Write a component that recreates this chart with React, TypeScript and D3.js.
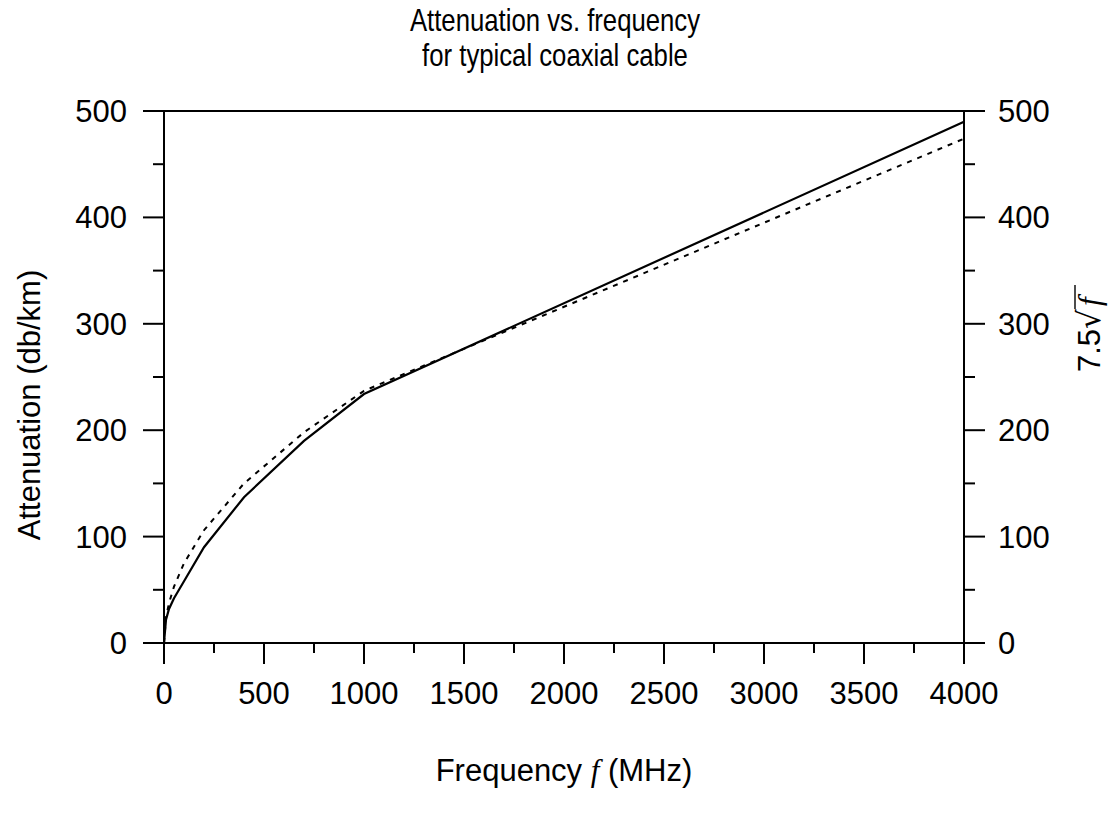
import React from "react";
import * as d3 from "d3";

const W = 1108;
const H = 815;

// Measured coaxial cable attenuation (solid)
const measuredFreq = [0, 10, 25, 50, 100, 200, 400, 700, 1000, 4000];
const measuredAtten = [0, 22, 32, 42, 58, 90, 137, 190, 234, 490];

// 7.5 * sqrt(f) reference curve (dashed)
const refFreq = [0, 10, 25, 50, 100, 200, 400, 700, 1000, 4000];
const refAtten = [0, 24, 37.5, 53, 75, 106, 150, 198, 237, 474];

const xMajorTicks = [0, 500, 1000, 1500, 2000, 2500, 3000, 3500, 4000];
const xMinorTicks = [250, 750, 1250, 1750, 2250, 2750, 3250, 3750];
const yMajorTicks = [0, 100, 200, 300, 400, 500];
const yMinorTicks = [50, 150, 250, 350, 450];

const FONT = "'Liberation Sans', Arial, Helvetica, sans-serif";
const SERIF = "'Liberation Serif', 'DejaVu Serif', serif";

export default function App() {
  const x = d3.scaleLinear().domain([0, 4000]).range([164, 964]);
  const y = d3.scaleLinear().domain([0, 500]).range([643, 111]);

  const line = d3
    .line<[number, number]>()
    .x((d) => x(d[0]))
    .y((d) => y(d[1]));

  const solid = line(measuredFreq.map((f, i) => [f, measuredAtten[i]] as [number, number])) || "";
  const dashed = line(refFreq.map((f, i) => [f, refAtten[i]] as [number, number])) || "";

  const x0 = x(0), x1 = x(4000), y0 = y(0), y1 = y(500);
  const fs = 31;

  return (
    <svg
      width={W}
      height={H}
      style={{ position: "absolute", left: 0, top: 0, background: "#fff" }}
      fontFamily={FONT}
    >
      <rect x={0} y={0} width={W} height={H} fill="#fff" />
      {/* title (condensed) */}
      <g transform="translate(555,0) scale(0.83,1)">
        <text x={0} y={31} textAnchor="middle" fontSize={31}>Attenuation vs. frequency</text>
        <text x={0} y={66} textAnchor="middle" fontSize={31}>for typical coaxial cable</text>
      </g>

      {/* axes lines */}
      <g stroke="#000" strokeWidth={2} fill="none">
        <line x1={x0 - 21} y1={y0} x2={x1} y2={y0} />
        <line x1={x0 - 21} y1={y1} x2={x1 + 21} y2={y1} />
        <line x1={x0} y1={y1} x2={x0} y2={y0 + 21} />
        <line x1={x1} y1={y1} x2={x1} y2={y0 + 21} />
        {xMajorTicks.map((t) => (
          <line key={"xm" + t} x1={x(t)} y1={y0} x2={x(t)} y2={y0 + 21} />
        ))}
        {xMinorTicks.map((t) => (
          <line key={"xn" + t} x1={x(t)} y1={y0} x2={x(t)} y2={y0 + 10} />
        ))}
        {yMajorTicks.map((t) => (
          <g key={"ym" + t}>
            <line x1={x0 - 21} y1={y(t)} x2={x0} y2={y(t)} />
            <line x1={x1} y1={y(t)} x2={x1 + 21} y2={y(t)} />
          </g>
        ))}
        {yMinorTicks.map((t) => (
          <g key={"yn" + t}>
            <line x1={x0 - 11} y1={y(t)} x2={x0} y2={y(t)} />
            <line x1={x1} y1={y(t)} x2={x1 + 11} y2={y(t)} />
          </g>
        ))}
      </g>

      {/* tick labels */}
      {xMajorTicks.map((t) => (
        <text key={"xl" + t} x={x(t)} y={704} textAnchor="middle" fontSize={fs}>{t}</text>
      ))}
      {yMajorTicks.map((t) => (
        <text key={"yl" + t} x={127} y={y(t) + 11} textAnchor="end" fontSize={fs}>{t}</text>
      ))}
      {yMajorTicks.map((t) => (
        <text key={"yr" + t} x={998} y={y(t) + 11} textAnchor="start" fontSize={fs}>{t}</text>
      ))}

      {/* curves */}
      <path d={dashed} fill="none" stroke="#000" strokeWidth={2} strokeDasharray="5,6" />
      <path d={solid} fill="none" stroke="#000" strokeWidth={2.2} />

      {/* axis labels */}
      <text x={564} y={781} textAnchor="middle" fontSize={fs}>
        Frequency <tspan fontFamily={SERIF} fontStyle="italic">f</tspan> (MHz)
      </text>
      <text transform={`translate(40,405) rotate(-90)`} textAnchor="middle" fontSize={fs}>Attenuation (db/km)</text>
      <g transform={`translate(1100,327) rotate(-90)`}>
        <text x={-45} y={0} textAnchor="start" fontSize={fs}>7.5</text>
        <text x={-2} y={0} fontSize={fs} fontFamily="'DejaVu Serif', serif">√</text>
        <text x={21} y={0} fontSize={fs} fontStyle="italic" fontFamily={SERIF}>f</text>
        <line x1={18} y1={-25} x2={42} y2={-25} stroke="#000" strokeWidth={1.4} />
      </g>
    </svg>
  );
}
